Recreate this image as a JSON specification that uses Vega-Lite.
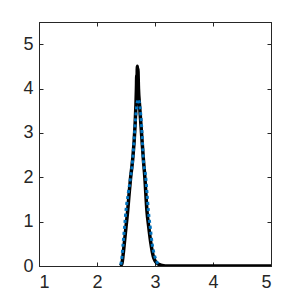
{
  "$schema": "https://vega.github.io/schema/vega-lite/v6.json",
  "width": 232,
  "height": 244,
  "autosize": "none",
  "padding": {"left": 39, "top": 22, "right": 29, "bottom": 34},
  "background": "white",
  "config": {
    "view": {"stroke": "#262626", "strokeWidth": 1},
    "axis": {
      "labelFont": "Liberation Sans",
      "labelFontSize": 18,
      "labelColor": "#262626",
      "domainColor": "#262626",
      "tickColor": "#262626",
      "tickSize": -4,
      "grid": false,
      "title": null
    }
  },
  "datasets": {
    "black": [
      {"x": 2.40, "y": 0}, {"x": 2.43, "y": 0.06}, {"x": 2.45, "y": 0.25}, {"x": 2.47, "y": 0.5},
      {"x": 2.50, "y": 0.88}, {"x": 2.53, "y": 1.26}, {"x": 2.555, "y": 1.65}, {"x": 2.58, "y": 2.0},
      {"x": 2.615, "y": 2.4}, {"x": 2.655, "y": 3.14}, {"x": 2.68, "y": 4.0}, {"x": 2.685, "y": 4.3},
      {"x": 2.69, "y": 4.05}, {"x": 2.695, "y": 4.5}, {"x": 2.70, "y": 4.15}, {"x": 2.705, "y": 4.45},
      {"x": 2.715, "y": 4.0}, {"x": 2.735, "y": 3.6}, {"x": 2.76, "y": 3.14}, {"x": 2.80, "y": 2.4},
      {"x": 2.825, "y": 2.0}, {"x": 2.86, "y": 1.26}, {"x": 2.895, "y": 0.85}, {"x": 2.93, "y": 0.5},
      {"x": 2.97, "y": 0.22}, {"x": 3.0, "y": 0.12}, {"x": 3.04, "y": 0.06}, {"x": 3.1, "y": 0.02},
      {"x": 3.15, "y": 0.005}, {"x": 3.2, "y": 0}, {"x": 3.5, "y": 0}, {"x": 4.0, "y": 0},
      {"x": 4.5, "y": 0}, {"x": 5.0, "y": 0}
    ],
    "blue": [
      {"x": 2.41, "y": 0.03}, {"x": 2.43, "y": 0.2}, {"x": 2.45, "y": 0.51}, {"x": 2.475, "y": 0.88},
      {"x": 2.50, "y": 1.26}, {"x": 2.54, "y": 1.65}, {"x": 2.58, "y": 2.01}, {"x": 2.615, "y": 2.39},
      {"x": 2.635, "y": 2.75}, {"x": 2.655, "y": 3.14}, {"x": 2.685, "y": 3.6}, {"x": 2.71, "y": 3.76},
      {"x": 2.74, "y": 3.6}, {"x": 2.77, "y": 3.14}, {"x": 2.80, "y": 2.39}, {"x": 2.84, "y": 2.01},
      {"x": 2.865, "y": 1.6}, {"x": 2.885, "y": 1.26}, {"x": 2.92, "y": 0.85}, {"x": 2.95, "y": 0.51},
      {"x": 2.99, "y": 0.25}, {"x": 3.03, "y": 0.1}, {"x": 3.07, "y": 0.02}
    ]
  },
  "layer": [
    {
      "data": {"name": "black"},
      "mark": {"type": "line", "color": "black", "strokeWidth": 3.5, "interpolate": "monotone", "clip": true},
      "encoding": {
        "x": {"field": "x", "type": "quantitative", "scale": {"domain": [1, 5], "nice": false},
              "axis": {"orient": "bottom", "values": [1, 2, 3, 4, 5], "labelPadding": 11}},
        "y": {"field": "y", "type": "quantitative", "scale": {"domain": [0, 5.5], "nice": false},
              "axis": {"orient": "left", "values": [0, 1, 2, 3, 4, 5], "labelPadding": 10}}
      }
    },
    {
      "data": {"name": "blue"},
      "mark": {"type": "line", "color": "#0072BD", "strokeWidth": 3, "strokeDash": [3, 3], "interpolate": "monotone", "clip": true},
      "encoding": {
        "x": {"field": "x", "type": "quantitative",
              "axis": {"orient": "top", "values": [1, 2, 3, 4, 5], "labels": false, "domain": true}},
        "y": {"field": "y", "type": "quantitative",
              "axis": {"orient": "right", "values": [0, 1, 2, 3, 4, 5], "labels": false, "domain": true}}
      }
    }
  ],
  "resolve": {"axis": {"x": "independent", "y": "independent"}}
}
